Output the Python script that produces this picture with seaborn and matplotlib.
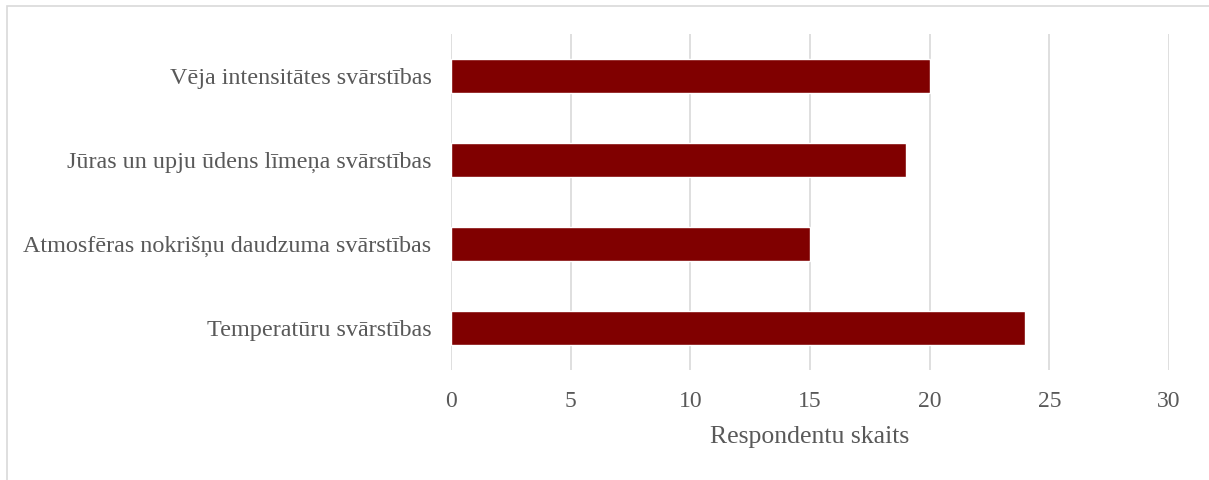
import matplotlib
matplotlib.use("Agg")
import matplotlib.pyplot as plt
import seaborn as sns
import pandas as pd
from matplotlib.patches import Rectangle

categories = [
    "Vēja intensitātes svārstības",
    "Jūras un upju ūdens līmeņa svārstības",
    "Atmosfēras nokrišņu daudzuma svārstības",
    "Temperatūru svārstības",
]
values = [20, 19, 15, 24]
xticks = [0, 5, 10, 15, 20, 25, 30]
xlabel = "Respondentu skaits"

sns.set_theme(style="white")
plt.rcParams['font.family'] = ['Liberation Serif', 'DejaVu Serif']

df = pd.DataFrame({"cat": categories, "val": values})

fig = plt.figure(figsize=(12.09, 4.8), dpi=100)
ax = fig.add_axes([451/1209, 1-370/480, (1169-451)/1209, (370-34)/480])
sns.barplot(data=df, y="cat", x="val", orient="h", color="#800000",
            width=0.4, saturation=1, ax=ax, order=categories)
ax.set_xlim(0, 30)
ax.set_ylim(3.5, -0.5)
ax.set_xticks(xticks)
ax.set_xticklabels([str(t) for t in xticks])
ax.grid(axis="x", color="#d9d9d9", linewidth=1.2)
ax.set_axisbelow(True)
for s in ax.spines.values():
    s.set_visible(False)
ax.tick_params(axis="both", length=0, colors="#595959")
ax.tick_params(axis="x", pad=15, labelsize=17)
ax.tick_params(axis="y", pad=14, labelsize=17.4)
ax.set_ylabel("")
ax.set_xlabel(xlabel, fontsize=18.5, color="#595959", labelpad=10)

fig.patches.append(Rectangle((6.5/1209, -0.1), 1.2, 1 - 5.5/480 + 0.1, transform=fig.transFigure,
                             fill=False, edgecolor="#d9d9d9", linewidth=1.2, clip_on=False))
fig.savefig("out.png", dpi=100, facecolor="white")
